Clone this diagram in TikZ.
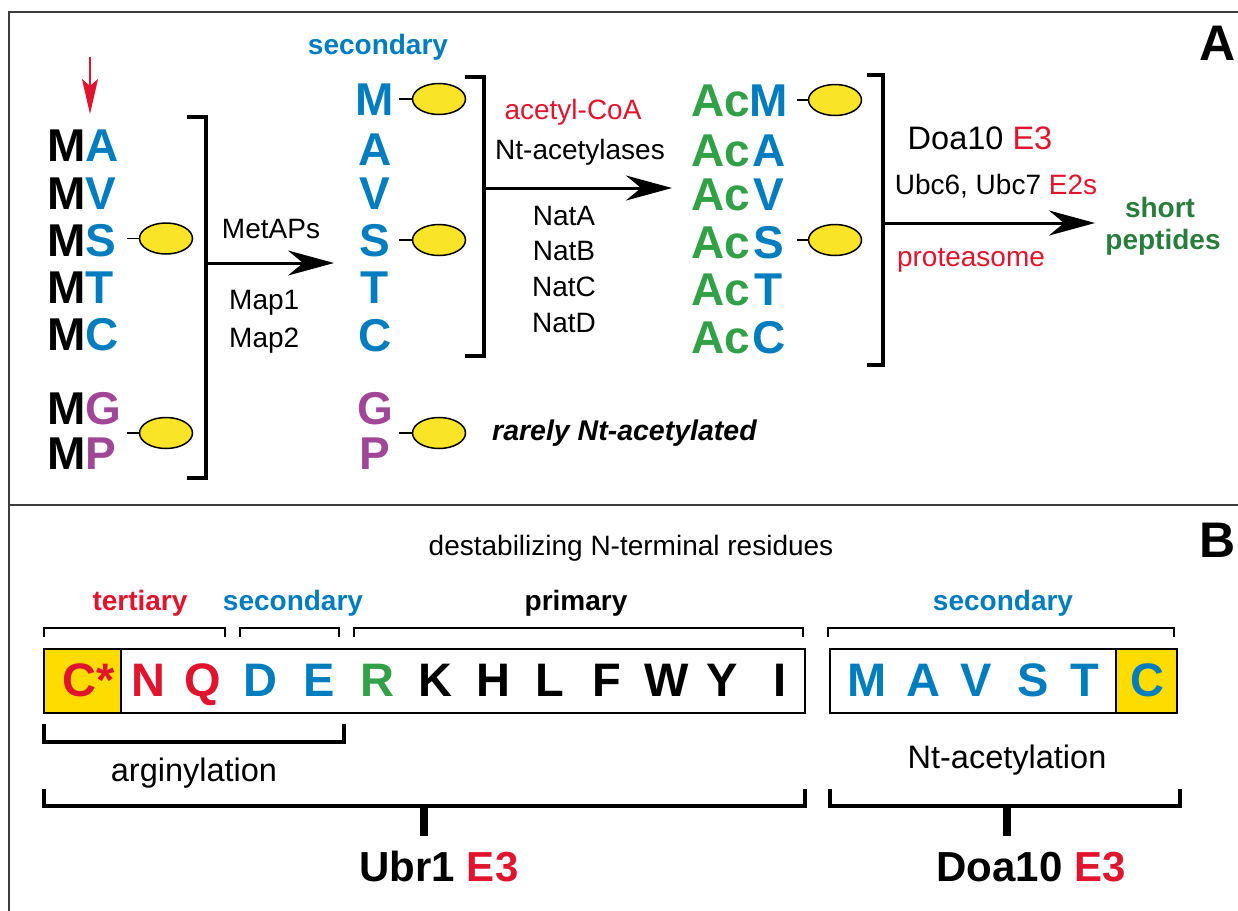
\documentclass[tikz,border=0pt]{standalone}
\usepackage{fontspec}
\setmainfont{Liberation Sans}
\usetikzlibrary{arrows.meta,shapes.geometric}
\definecolor{cblue}{RGB}{0,125,190}
\definecolor{cred}{RGB}{225,20,45}
\definecolor{cpurple}{RGB}{160,70,150}
\definecolor{cgreen}{RGB}{50,160,70}
\definecolor{dgreen}{RGB}{40,125,60}
\definecolor{cyell}{RGB}{250,228,40}
\definecolor{byell}{RGB}{255,220,0}
\definecolor{framec}{RGB}{60,60,60}
\begin{document}
\begin{tikzpicture}[x=1pt,y=-1pt,
  big/.style={font=\fontsize{46}{46}\selectfont\bfseries, inner sep=0pt, text height=33pt, text depth=0pt},
  seq/.style={font=\fontsize{47}{47}\selectfont\bfseries, inner sep=0pt, text height=34pt, text depth=0pt},
  lab/.style={font=\fontsize{28}{30}\selectfont, inner sep=0pt},
  blab/.style={font=\fontsize{28}{30}\selectfont\bfseries, inner sep=0pt},
  biglab/.style={font=\fontsize{32.5}{34}\selectfont, inner sep=0pt},
  e3lab/.style={font=\fontsize{42}{44}\selectfont\bfseries, inner sep=0pt},
  blob/.style={ellipse, draw, fill=cyell, line width=1.5pt, minimum width=53pt, minimum height=31pt, inner sep=0pt},
  conn/.style={line width=1.5pt},
  brk/.style={line width=3.5pt},
  thinbrk/.style={line width=2pt},
  bigbrk/.style={line width=4pt},
  flow/.style={line width=3pt, -{Stealth[length=46pt,width=25pt,inset=15pt]}},
  frame/.style={line width=2pt, draw=framec}]
\useasboundingbox (0,0) rectangle (1238,910);
\clip (0,0) rectangle (1238,910);

% frame
\draw[frame] (9,920) -- (9,12) -- (1250,12);
\draw[frame] (9,505) -- (1250,505);
\node[font=\fontsize{50}{50}\selectfont\bfseries, inner sep=0pt] (labA) at (1218,43) {A};
\node[font=\fontsize{50}{50}\selectfont\bfseries, inner sep=0pt] (labB) at (1218,540) {B};

% ---------- Panel A, column 1 ----------
\coordinate (arrtop) at (90,57);
\coordinate (arrbot) at (90,114);
\draw[cred, line width=1.6pt, -{Stealth[length=35pt,width=16pt,inset=7pt]}] (arrtop) -- (arrbot);

\node[big, anchor=west] (ma) at (47,145) {M\textcolor{cblue}{A}};
\node[big, anchor=west] (mv) at (47,193) {M\textcolor{cblue}{V}};
\node[big, anchor=west] (ms) at (47,240) {M\textcolor{cblue}{S}};
\node[big, anchor=west] (mt) at (47,287) {M\textcolor{cblue}{T}};
\node[big, anchor=west] (mc) at (47,334) {M\textcolor{cblue}{C}};
\node[big, anchor=west] (mg) at (47,408) {M\textcolor{cpurple}{G}};
\node[big, anchor=west] (mp) at (47,453) {M\textcolor{cpurple}{P}};

\node[blob] (e1a) at (166,238.5) {};
\node[blob] (e1b) at (166,433) {};
\draw[conn] (e1a.west) -- ++(-12,0);
\draw[conn] (e1b.west) -- ++(-12,0);

\draw[brk] (187,117) -- (206,117) -- (206,478) -- (187,478);
\coordinate (b1) at (206,263);
\coordinate (a1end) at (334,263);
\draw[flow] (b1) -- (a1end);
\node[lab] (metaps) at (271,229) {MetAPs};
\node[lab, anchor=west] (map1) at (229,303) {Map1};
\node[lab, anchor=west] (map2) at (229,341) {Map2};

% ---------- Panel A, column 2 ----------
\node[blab, text=cblue] (sec1) at (378,47) {secondary};
\node[big, text=cblue] (m2) at (375,99) {M};
\node[big, text=cblue] (a2) at (375,149) {A};
\node[big, text=cblue] (v2) at (375,193) {V};
\node[big, text=cblue] (s2) at (375,240) {S};
\node[big, text=cblue] (t2) at (375,287) {T};
\node[big, text=cblue] (c2) at (375,335) {C};
\node[big, text=cpurple] (g2) at (375,408) {G};
\node[big, text=cpurple] (p2) at (375,453) {P};

\node[blob] (e2a) at (439,99) {};
\node[blob] (e2b) at (439,240) {};
\node[blob] (e2c) at (439,433) {};
\draw[conn] (e2a.west) -- ++(-13,0);
\draw[conn] (e2b.west) -- ++(-13,0);
\draw[conn] (e2c.west) -- ++(-13,0);

\node[font=\fontsize{28.5}{30}\selectfont\bfseries\itshape, inner sep=0pt, anchor=west] (rarely) at (492,433) {rarely Nt-acetylated};

\draw[brk] (465,77) -- (484,77) -- (484,356) -- (465,356);
\coordinate (b2) at (484,188);
\coordinate (a2end) at (672,188);
\draw[flow] (b2) -- (a2end);
\node[lab, text=cred] (acoa) at (573,112) {acetyl-CoA};
\node[lab] (ntac) at (580,152) {Nt-acetylases};
\node[lab] (nata) at (564,216) {NatA};
\node[lab] (natb) at (564,251) {NatB};
\node[lab] (natc) at (564,287) {NatC};
\node[lab] (natd) at (564,323) {NatD};

% ---------- Panel A, column 3 ----------
\foreach \n/\L/\y in {m/M/100, a/A/150, v/V/194, s/S/242, t/T/289, c/C/337}{
  \node[big, text=cgreen, anchor=east] (ac\n) at (750,\y) {Ac};
  \node[big, text=cblue] (l3\n) at (769,\y) {\L};
}
\node[blob] (e3a) at (835,100) {};
\node[blob] (e3b) at (835,240) {};
\draw[conn] (e3a.west) -- ++(-11,0);
\draw[conn] (e3b.west) -- ++(-11,0);

\draw[brk] (867,75) -- (883,75) -- (883,365) -- (867,365);
\coordinate (b3) at (883,223);
\coordinate (a3end) at (1095,223);
\draw[flow] (b3) -- (a3end);
\node[biglab] (doa) at (980,138) {Doa10 \textcolor{cred}{E3}};
\node[lab] (ubc) at (996,186) {Ubc6, Ubc7 \textcolor{cred}{E2s}};
\node[lab, text=cred] (prot) at (971,260) {proteasome};
\node[blab, text=dgreen] (short) at (1160,207) {short};
\node[blab, text=dgreen] (pept) at (1163,242) {peptides};

% ---------- Panel B ----------
\node[lab] (destab) at (631,548) {destabilizing N-terminal residues};
\node[blab, text=cred] (tert) at (140,603) {tertiary};
\node[blab, text=cblue] (secB1) at (293,603) {secondary};
\node[blab] (prim) at (576,603) {primary};
\node[blab, text=cblue] (secB2) at (1003,603) {secondary};

\draw[thinbrk] (44,637) -- (44,628) -- (225,628) -- (225,637);
\draw[thinbrk] (240,637) -- (240,628) -- (339,628) -- (339,637);
\draw[thinbrk] (354,637) -- (354,628) -- (803,628) -- (803,637);
\draw[thinbrk] (828,637) -- (828,628) -- (1174,628) -- (1174,637);

% sequence box 1
\fill[byell] (44,649) rectangle (121,713);
\draw[line width=2pt] (121,649) -- (121,713);
\draw[line width=2pt] (44,649) rectangle (805,713);
\node[seq, text=cred] (sC) at (89,679) {C*};
\foreach \x/\L/\c [count=\i] in {148/N/cred, 203/Q/cred, 260/D/cblue, 319/E/cblue, 377/R/cgreen, 435/K/black, 493/H/black, 550/L/black, 607/F/black, 667/W/black, 722/Y/black, 780/I/black}{
  \node[seq, text=\c] (s\i) at (\x,679) {\L};
}
% sequence box 2
\fill[byell] (1116,649) rectangle (1177,713);
\draw[line width=2pt] (1116,649) -- (1116,713);
\draw[line width=2pt] (830,649) rectangle (1177,713);
\foreach \x/\L [count=\i] in {867/M, 923/A, 976/V, 1033/S, 1085/T, 1147/C}{
  \node[seq, text=cblue] (r\i) at (\x,679) {\L};
}

% arginylation
\draw[bigbrk] (44,724) -- (44,742) -- (344,742) -- (344,724);
\node[biglab] (argin) at (194,773) {arginylation};
\node[biglab] (ntacB) at (1007,760) {Nt-acetylation};

% big brackets
\draw[bigbrk] (44,789) -- (44,806) -- (805,806) -- (805,789);
\draw[bigbrk] (830,789) -- (830,806) -- (1180,806) -- (1180,789);
\node[e3lab] (ubr) at (439,867) {Ubr1 \textcolor{cred}{E3}};
\node[e3lab] (doaB) at (1031,867) {Doa10 \textcolor{cred}{E3}};
\coordinate (st1) at (424,806);
\coordinate (st2) at (1007,806);
\draw[line width=8pt] (st1) -- ++(0,30);
\draw[line width=8pt] (st2) -- ++(0,30);
\end{tikzpicture}
\end{document}
